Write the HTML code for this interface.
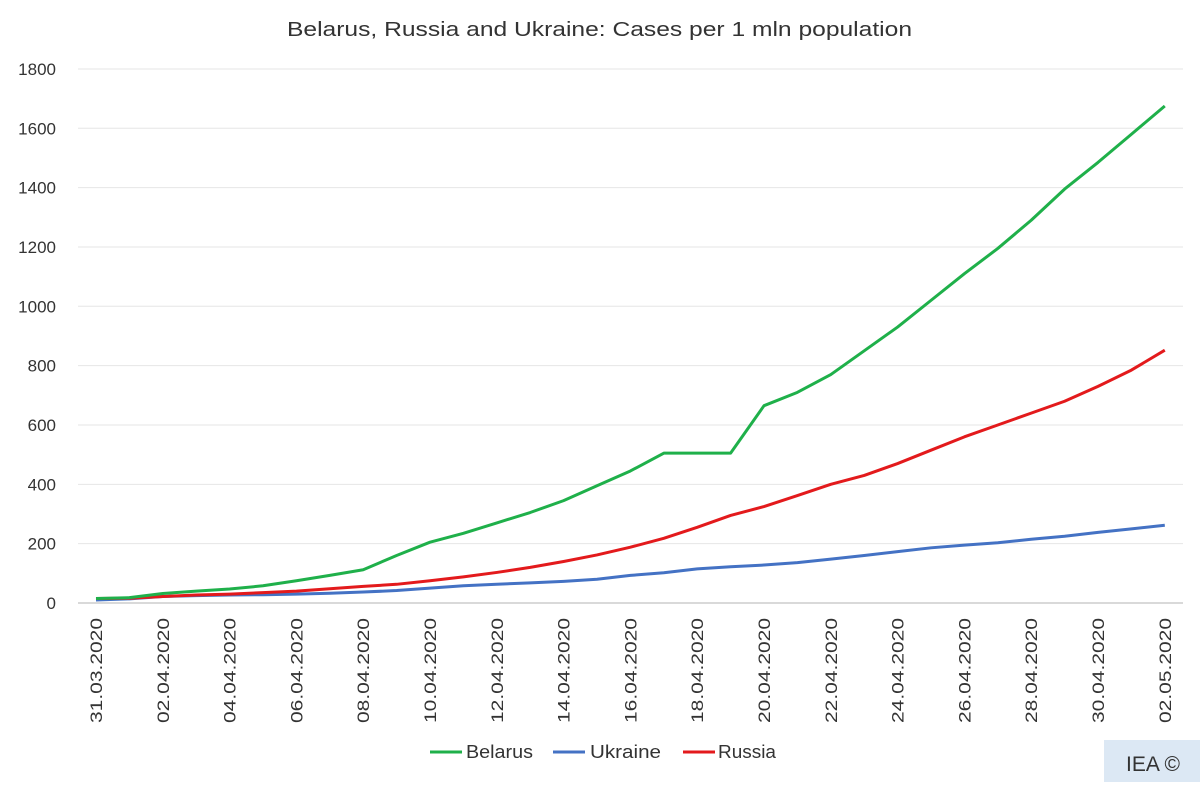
<!DOCTYPE html>
<html><head><meta charset="utf-8"><style>
body{margin:0;background:#fff;width:1200px;height:782px;overflow:hidden;font-family:"Liberation Sans",sans-serif}
</style></head><body>
<svg id="s" width="1200" height="782" xmlns="http://www.w3.org/2000/svg" font-family="Liberation Sans, sans-serif" fill="#333">
<text x="287" y="36" font-size="20" textLength="625" lengthAdjust="spacingAndGlyphs">Belarus, Russia and Ukraine: Cases per 1 mln population</text>
<g id="grid"></g>
<g id="lines"></g>
<line x1="430" y1="752" x2="462" y2="752" stroke="#1fb04a" stroke-width="3"/>
<text x="466" y="758" font-size="18" textLength="67" lengthAdjust="spacingAndGlyphs">Belarus</text>
<line x1="553" y1="752" x2="585" y2="752" stroke="#4472c4" stroke-width="3"/>
<text x="590" y="758" font-size="18" textLength="71" lengthAdjust="spacingAndGlyphs">Ukraine</text>
<line x1="683" y1="752" x2="715" y2="752" stroke="#e31a1c" stroke-width="3"/>
<text x="718" y="758" font-size="18" textLength="58" lengthAdjust="spacingAndGlyphs">Russia</text>
<rect x="1104" y="740" width="96" height="42" fill="#dce8f4"/>
<text x="1126" y="771" font-size="21" fill="#333">IEA ©</text>
</svg>
<script>
var NS="http://www.w3.org/2000/svg",g=document.getElementById("grid"),L=document.getElementById("lines");
function el(t,a,p,txt){var e=document.createElementNS(NS,t);for(var k in a)e.setAttribute(k,a[k]);if(txt!=null)e.textContent=txt;p.appendChild(e);return e;}
function Y(v){return 603-v*0.2967;}
function X(i){return 96+i*33.4;}
for(var v=0;v<=1800;v+=200){
 el("line",{x1:78,x2:1183,y1:Y(v),y2:Y(v),stroke:v?"#e6e6e6":"#d9d9d9","stroke-width":v?1:2},g);
 el("text",{x:56,y:Y(v)+6,"text-anchor":"end","font-size":17},g,v);
}
var labels=["31.03.2020","02.04.2020","04.04.2020","06.04.2020","08.04.2020","10.04.2020","12.04.2020","14.04.2020","16.04.2020","18.04.2020","20.04.2020","22.04.2020","24.04.2020","26.04.2020","28.04.2020","30.04.2020","02.05.2020"];
labels.forEach(function(l,j){var x=X(j*2)+6;el("text",{x:x,y:618,"text-anchor":"end","font-size":17,textLength:105,lengthAdjust:"spacingAndGlyphs",transform:"rotate(-90 "+x+" 618)"},g,l);});
var B=[15,18,32,40,47,58,75,93,112,160,205,235,270,305,345,395,445,505,505,505,665,710,770,850,930,1020,1110,1195,1290,1395,1485,1580,1675];
var R=[15,16,22,27,30,35,40,48,56,63,75,88,103,120,140,162,188,218,255,295,325,362,400,430,470,515,560,600,640,680,730,785,852];
var U=[10,14,22,25,27,28,30,33,37,42,50,58,63,68,73,80,93,102,115,122,128,136,148,160,173,186,195,203,215,225,238,250,262];
[[U,"#4472c4"],[R,"#e31a1c"],[B,"#1fb04a"]].forEach(function(s){
 el("polyline",{points:s[0].map(function(v,i){return X(i)+","+Y(v)}).join(" "),fill:"none",stroke:s[1],"stroke-width":3,"stroke-linejoin":"round"},L);
});
</script>
</body></html>
